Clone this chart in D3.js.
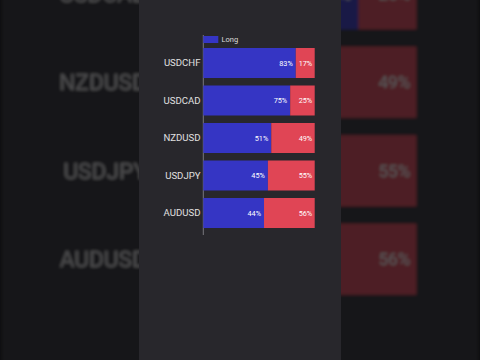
<!DOCTYPE html>
<html><head><meta charset="utf-8">
<script src="https://cdn.jsdelivr.net/npm/d3@7"></script>
<style>html,body{margin:0;padding:0;background:#0e0e10;}svg{display:block;}</style>
</head><body>
<script>
const categories = ["USDCHF","USDCAD","NZDUSD","USDJPY","AUDUSD"];
// percentages printed on the bars
const longLabels = [83,75,51,45,44];
const shortLabels = [17,25,49,55,56];
// long share as the bars are drawn in the frame (mid-animation), in %
const longBar = [83,78,61,58,54.5];
const legendLabels = ["Long"];

const W=480,H=360;
const svg=d3.select("body").append("svg").attr("width",W).attr("height",H);
const defs=svg.append("defs");
defs.append("filter").attr("id","blur").attr("x","-10%").attr("y","-10%").attr("width","120%").attr("height","120%")
  .append("feGaussianBlur").attr("stdDeviation",0.6);

svg.append("rect").attr("width",W).attr("height",H).attr("fill","#0e0e10");

const x=d3.scaleLinear().domain([0,100]).range([203.3,314.7]);
const y=d3.scaleBand().domain(categories).range([44.25,231.75]).paddingInner(0.2).paddingOuter(0.1);
const data=categories.map((c,i)=>({c,l:longLabels[i],s:shortLabels[i],b:longBar[i]}));

function drawChart(g){
  g.append("line").attr("x1",203.3).attr("x2",203.3).attr("y1",35).attr("y2",235)
    .attr("stroke","#77777d").attr("stroke-width",1);
  // legend
  g.append("rect").attr("x",203.3).attr("y",36).attr("width",15).attr("height",7).attr("fill","#3535c4");
  g.append("text").attr("x",221.5).attr("y",39.5).attr("dy","0.35em").attr("fill","#dcdcdc")
    .attr("font-family","Roboto, sans-serif").attr("font-size",7.5).text(legendLabels[0]);
  const rows=g.selectAll("g.row").data(data).join("g").attr("class","row");
  rows.append("rect").attr("x",x(0)).attr("y",d=>y(d.c)).attr("width",d=>x(d.b)-x(0)).attr("height",y.bandwidth()).attr("fill","#3535c4");
  rows.append("rect").attr("x",d=>x(d.b)).attr("y",d=>y(d.c)).attr("width",d=>x(100)-x(d.b)).attr("height",y.bandwidth()).attr("fill","#e04555");
  rows.append("text").attr("x",d=>x(d.b)-3).attr("y",d=>y(d.c)+y.bandwidth()/2).attr("dy","0.35em")
    .attr("text-anchor","end").attr("fill","#ffffff").attr("font-family","Roboto, sans-serif").attr("font-size",7.3)
    .text(d=>d.l+"%");
  rows.append("text").attr("x",x(100)-2.5).attr("y",d=>y(d.c)+y.bandwidth()/2).attr("dy","0.35em")
    .attr("text-anchor","end").attr("fill","#ffffff").attr("font-family","Roboto, sans-serif").attr("font-size",7.3)
    .text(d=>d.s+"%");
  rows.append("text").attr("x",200.5).attr("y",d=>y(d.c)+y.bandwidth()/2).attr("dy","0.35em")
    .attr("text-anchor","end").attr("fill","#e0e0e0").attr("font-family","Roboto, sans-serif").attr("font-size",9.6)
    .text(d=>d.c);
}

// blurred, enlarged background copy
const bg=svg.append("g").attr("opacity",0.3).attr("filter","url(#blur)")
  .attr("transform","translate(240,179) scale(2.36) translate(-240,-179)");
bg.append("rect").attr("x",139).attr("y",0).attr("width",202).attr("height",H).attr("fill","#2a292e");
drawChart(bg);

// main panel
svg.append("rect").attr("x",139).attr("y",0).attr("width",202).attr("height",H).attr("fill","#28272c");
drawChart(svg.append("g"));
</script>
</body></html>
